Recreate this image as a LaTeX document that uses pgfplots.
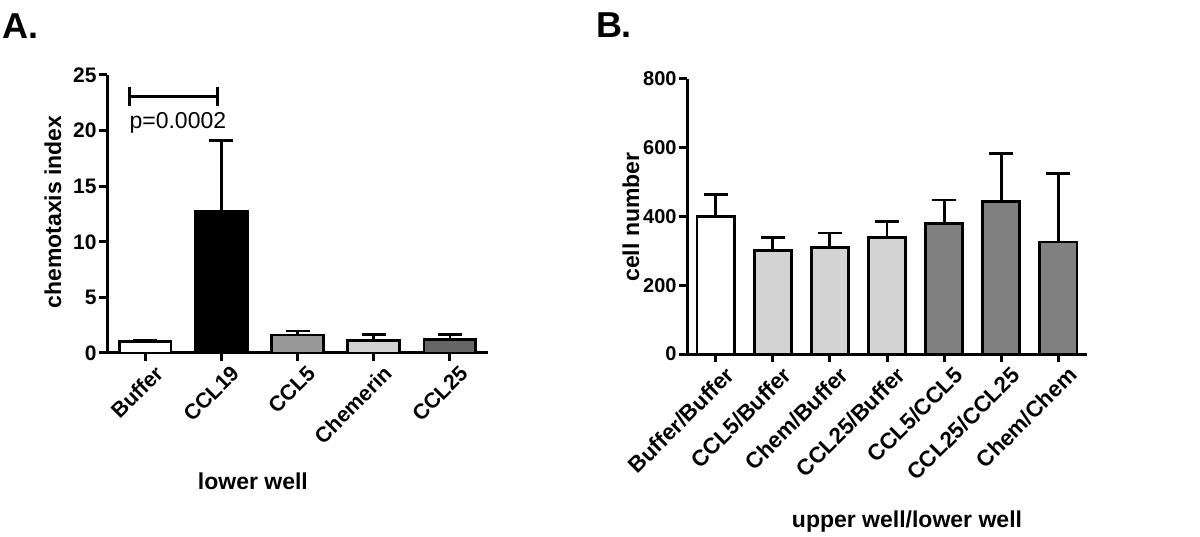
\documentclass[border=0pt]{standalone}
\usepackage{pgfplots}
\pgfplotsset{compat=1.18}
\usepackage{fontspec}
\setmainfont{Liberation Sans}
\definecolor{gA}{HTML}{999999}
\definecolor{gB}{HTML}{D3D3D3}
\definecolor{gC}{HTML}{666666}
\definecolor{gD}{HTML}{808080}
\pgfplotsset{
  gp/.style={
    scale only axis,
    axis lines=left,
    axis line style={-, line width=1.5pt},
    tick align=outside,
    major tick length=4pt,
    tick style={line width=1.5pt, black},
    /pgf/number format/assume math mode=true,
    yticklabel style={font=\bfseries\fontsize{10}{12}\selectfont, inner sep=1pt},
    xticklabel style={rotate=45, anchor=north east, inner sep=0pt, yshift=-4pt, xshift=2pt},
    label style={font=\bfseries\fontsize{11.5}{13}\selectfont},
    ymin=0,
    clip=false,
  },
  bb/.style={ybar, bar width=#1, draw=black, line width=1.4pt,
    /pgfplots/error bars/y dir=plus,
    /pgfplots/error bars/y explicit,
    /pgfplots/error bars/error bar style={line width=1.4pt, black},
    /pgfplots/error bars/error mark options={rotate=90, mark size=6pt, line width=1.4pt, black}},
}
\begin{document}
\begin{tikzpicture}
\path[use as bounding box] (0,0) rectangle (600pt,268pt);
\node[font=\bfseries\fontsize{18}{20}\selectfont] at (10.5pt,255pt) {A.};
\node[font=\bfseries\fontsize{18}{20}\selectfont] at (307pt,255.5pt) {B.};

\begin{axis}[gp,
  at={(53.5pt,91.5pt)}, anchor=south west,
  width=190.5pt, height=139pt,
  xmin=-0.5, xmax=4.5, ymax=25,
  ytick={0,5,10,15,20,25},
  yticklabel style={font=\bfseries\fontsize{10.5}{12}\selectfont},
  xticklabel style={font=\bfseries\fontsize{10.7}{12}\selectfont},
  xtick={0,1,2,3,4},
  xticklabels={Buffer,CCL19,CCL5,Chemerin,CCL25},
  xlabel={lower well},
  ylabel={chemotaxis index},
  xlabel style={at={(axis description cs:0.383,-0.46)}, anchor=center},
  ylabel style={at={(axis description cs:-0.142,0.507)}, anchor=center},
]
\addplot[bb=0.68, fill=white] coordinates {(0,1.0) +- (0,0.17)};
\addplot[bb=0.68, fill=black] coordinates {(1,12.7) +- (0,6.4)};
\addplot[bb=0.68, fill=gA] coordinates {(2,1.62) +- (0,0.36)};
\addplot[bb=0.68, fill=gB] coordinates {(3,1.1) +- (0,0.58)};
\addplot[bb=0.68, fill=gC] coordinates {(4,1.23) +- (0,0.45)};
\draw[line width=1.5pt] (axis cs:-0.2,23.05) -- (axis cs:0.95,23.05);
\draw[line width=1.5pt] (axis cs:-0.2,22.2) -- (axis cs:-0.2,23.9);
\draw[line width=1.5pt] (axis cs:0.95,22.2) -- (axis cs:0.95,23.9);
\node[font=\fontsize{11.5}{13}\selectfont] at (axis cs:0.43,20.7) {p=0.0002};
\end{axis}

\begin{axis}[gp,
  at={(343.5pt,91pt)}, anchor=south west,
  width=200pt, height=137.5pt,
  xmin=-0.5, xmax=6.5, ymax=800,
  ytick={0,200,400,600,800},
  xticklabel style={font=\bfseries\fontsize{11.2}{13}\selectfont},
  xtick={0,1,2,3,4,5,6},
  xticklabels={Buffer/Buffer,CCL5/Buffer,Chem/Buffer,CCL25/Buffer,CCL5/CCL5,CCL25/CCL25,Chem/Chem},
  xlabel={upper well/lower well},
  ylabel={cell number},
  xlabel style={at={(axis description cs:0.55,-0.61)}, anchor=center},
  ylabel style={at={(axis description cs:-0.14,0.498)}, anchor=center},
]
\addplot[bb=0.65, fill=white] coordinates {(0,400) +- (0,65)};
\addplot[bb=0.65, fill=gB] coordinates {(1,300) +- (0,39)};
\addplot[bb=0.65, fill=gB] coordinates {(2,309) +- (0,43)};
\addplot[bb=0.65, fill=gB] coordinates {(3,340) +- (0,45)};
\addplot[bb=0.65, fill=gD] coordinates {(4,379) +- (0,69)};
\addplot[bb=0.65, fill=gD] coordinates {(5,443) +- (0,140)};
\addplot[bb=0.65, fill=gD] coordinates {(6,326) +- (0,199)};
\end{axis}
\end{tikzpicture}
\end{document}
